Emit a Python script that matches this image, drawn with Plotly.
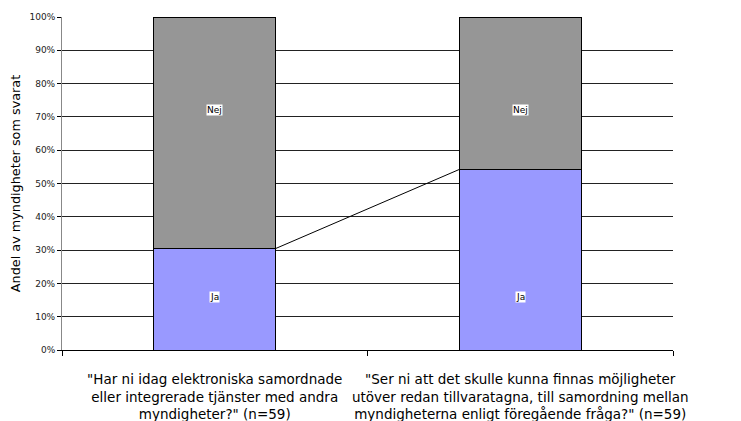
import plotly.graph_objects as go

categories = ['"Har ni idag elektroniska samordnade<br>eller integrerade tjänster med andra<br>myndigheter?" (n=59)',
              '"Ser ni att det skulle kunna finnas möjligheter<br>utöver redan tillvaratagna, till samordning mellan<br>myndigheterna enligt föregående fråga?" (n=59)']
ja_values = [30.5, 54.2]
nej_values = [69.5, 45.8]
ytick_vals = [0, 10, 20, 30, 40, 50, 60, 70, 80, 90, 100]
ytick_text = [f"{v}%" for v in ytick_vals]

xpos = [0, 1]
bar_w = 0.4
FONT = "DejaVu Sans"

fig = go.Figure()
fig.add_trace(go.Bar(x=xpos, y=ja_values, width=bar_w, name="Ja",
                     marker=dict(color="#9999FF", line=dict(color="#000000", width=1))))
fig.add_trace(go.Bar(x=xpos, y=nej_values, width=bar_w, name="Nej",
                     marker=dict(color="#969696", line=dict(color="#000000", width=1))))
# series line connecting Ja tops
fig.add_trace(go.Scatter(x=[xpos[0] + bar_w / 2, xpos[1] - bar_w / 2], y=ja_values,
                         mode="lines", line=dict(color="#000000", width=1), hoverinfo="skip"))

for x in xpos:
    fig.add_annotation(x=x, y=16, text="Ja", showarrow=False, bgcolor="white",
                       font=dict(family=FONT, size=9, color="#000000"), borderpad=0)
    fig.add_annotation(x=x, y=72, text="Nej", showarrow=False, bgcolor="white",
                       font=dict(family=FONT, size=9, color="#000000"), borderpad=0)

fig.update_layout(
    barmode="stack", showlegend=False, width=733, height=413,
    margin=dict(l=54, r=68, t=9, b=71),
    plot_bgcolor="white", paper_bgcolor="white",
    font=dict(family=FONT, color="#000000"),
    xaxis=dict(range=[-0.5, 1.5], tickvals=xpos, ticktext=categories, ticks="",
               tickfont=dict(size=13.5), showgrid=False, zeroline=False, automargin=False,
               ticklabelstandoff=17,
               showline=True, linecolor="#000000", linewidth=1,
               minor=dict(tickvals=[-0.5, 0.5, 1.5], ticks="outside", ticklen=5,
                          tickcolor="#000000", showgrid=False)),
    yaxis=dict(range=[0, 100], tickvals=ytick_vals, ticktext=ytick_text, automargin=False,
               ticks="outside", ticklen=4, tickcolor="#000000", tickfont=dict(size=9, color="#222222"),
               showgrid=True, gridcolor="#222222", gridwidth=1, zeroline=False,
               showline=True, linecolor="#888888", linewidth=1,
               title=dict(text="Andel av myndigheter som svarat", font=dict(size=12.8), standoff=17)),
)

fig.write_html("out.html")
